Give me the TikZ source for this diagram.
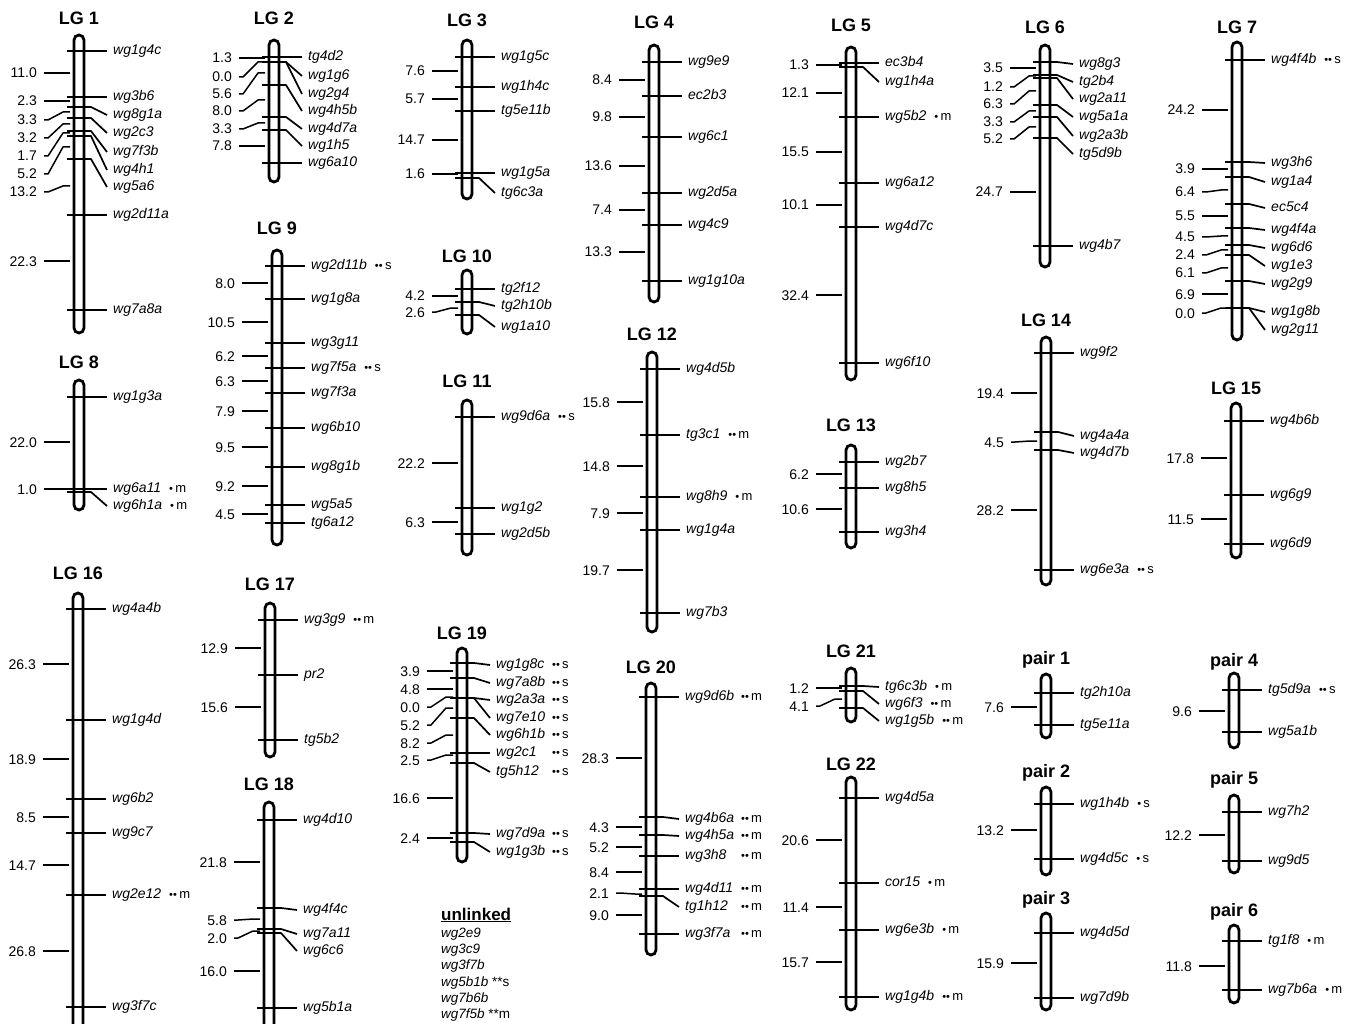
\documentclass[tikz,border=0pt]{standalone}
\usepackage{fontspec}
\setmainfont{Liberation Sans}
\usetikzlibrary{positioning}
\tikzset{
  lgbar/.style={draw=black,line width=2.8pt,fill=white,rounded corners=5pt,minimum width=10pt,inner sep=0pt},
  lgtitle/.style={font=\fontsize{18}{20}\selectfont\bfseries,anchor=base,inner sep=1pt},
  mklabel/.style={font=\fontsize{14}{16}\selectfont\itshape,anchor=west,inner sep=1pt,text height=10pt,text depth=3pt},
  cmlabel/.style={font=\fontsize{14}{16}\selectfont,anchor=east,inner sep=1pt,text height=10pt,text depth=0pt},
  mktick/.style={line width=1.7pt,line join=round},
  cmtick/.style={line width=1.5pt,line join=round},
  unhead/.style={font=\fontsize{17}{19}\selectfont\bfseries,anchor=base west,inner sep=0pt},
  unitem/.style={font=\fontsize{13.5}{15}\selectfont\itshape,anchor=base west,inner sep=0pt}
}
% significance note after a marker
\newcommand{\sigdots}[2]{{\upshape\fontsize{11}{12}\selectfont #1}\,{\upshape\fontsize{13}{14}\selectfont #2}}
\newcommand{\sig}[2]{\hspace{8pt}\sigdots{#1}{#2}}
% same, with the notes in one column
\newcommand{\sigcol}[3]{\makebox[56pt][l]{#1}\sigdots{#2}{#3}}
% bar + title: name, title, x, top, bottom, title y
\newcommand{\linkgroup}[6]{%
  \pgfmathsetmacro{\barh}{#5-#4}%
  \pgfmathsetmacro{\barc}{(#4+#5)/2}%
  \node[lgbar,minimum height=\barh pt] (#1) at (#3,\barc) {};
  \node[lgtitle] (#1-name) at (#3,#6+6.5) {#2};
}
% markers on the right: y on bar / y of label / label
\newcommand{\lgmarkers}[3]{%
  \foreach \yt/\yl/\mk [count=\i] in {#3}{
    \coordinate (#1-p\i) at (#2,\yt);
    \node[mklabel] (#1-m\i) at (#2+33,\yl) {\mk};
    \draw[mktick] ([xshift=-12pt]#1-p\i) -- ([xshift=12pt]#1-p\i) -- ([xshift=-5pt]#1-m\i.west);
  }
}
% distances on the left: y of number / y at bar / value
\newcommand{\lgdists}[3]{%
  \foreach \yl/\ym/\dd [count=\i] in {#3}{
    \node[cmlabel] (#1-d\i) at (#2-41,\yl) {\dd};
    \coordinate (#1-q\i) at (#2-9,\ym);
    \draw[cmtick] ([xshift=6pt]#1-d\i.east) -- ++(4pt,0) -- ([xshift=-7pt]#1-q\i) -- (#1-q\i);
  }
}

\begin{document}
\begin{tikzpicture}[x=1pt,y=-1pt]
\useasboundingbox (0,0) rectangle (1354,1024);
\clip (0,0) rectangle (1354,1024);

% ---- top row
\linkgroup{lg1}{LG 1}{79}{35}{333}{18}
\lgmarkers{lg1}{79}{51/51/wg1g4c, 97/97/wg3b6, 107/115/wg8g1a, 118/133/wg2c3, 131/152/wg7f3b, 136/170/wg4h1, 159/187/wg5a6, 215/215/wg2d11a, 310/310/wg7a8a}
\lgdists{lg1}{79}{73/73/11.0, 101/101/2.3, 120/112/3.3, 138/124/3.2, 156/133/1.7, 174/147/5.2, 192/186/13.2, 261/261/22.3}

\linkgroup{lg2}{LG 2}{274}{40}{182}{18}
\lgmarkers{lg2}{274}{57/57/tg4d2, 62/76/wg1g6, 62/94/wg2g4, 85/111/wg4h5b, 117/129/wg4d7a, 130/146/wg1h5, 163/163/wg6a10}
\lgdists{lg2}{274}{58/58/1.3, 77/62/0.0, 94/73/5.6, 111/100/8.0, 129/123/3.3, 146/146/7.8}

\linkgroup{lg3}{LG 3}{467}{40}{199}{20}
\lgmarkers{lg3}{467}{57/57/wg1g5c, 87/87/wg1h4c, 111/111/tg5e11b, 173/173/wg1g5a, 178/193/tg6c3a}
\lgdists{lg3}{467}{71/71/7.6, 99/99/5.7, 140/140/14.7, 174/174/1.6}

\linkgroup{lg4}{LG 4}{654}{45}{302}{22}
\lgmarkers{lg4}{654}{62/62/wg9e9, 96/96/ec2b3, 137/137/wg6c1, 193/193/wg2d5a, 225/225/wg4c9, 281/281/wg1g10a}
\lgdists{lg4}{654}{80/80/8.4, 117/117/9.8, 166/166/13.6, 210/210/7.4, 252/252/13.3}

\linkgroup{lg5}{LG 5}{851}{47}{380}{25}
\lgmarkers{lg5}{851}{63/63/ec3b4, 67/82/wg1h4a, 117/117/wg5b2\sig{•}{m}, 183/183/wg6a12, 227/227/wg4d7c, 363/363/wg6f10}
\lgdists{lg5}{851}{65/65/1.3, 93/93/12.1, 152/152/15.5, 205/205/10.1, 295/295/32.4}

\linkgroup{lg6}{LG 6}{1045}{45}{267}{27}
\lgmarkers{lg6}{1045}{62/64/wg8g3, 75/82/tg2b4, 78/99/wg2a11, 105/117/wg5a1a, 117/136/wg2a3b, 138/154/tg5d9b, 246/246/wg4b7}
\lgdists{lg6}{1045}{68/68/3.5, 87/76/1.2, 104/91/6.3, 122/111/3.3, 139/127/5.2, 192/192/24.7}

\linkgroup{lg7}{LG 7}{1237}{42}{340}{27}
\lgmarkers{lg7}{1237}{60/60/wg4f4b\sig{••}{s}, 162/163/wg3h6, 177/182/wg1a4, 204/208/ec5c4, 228/230/wg4f4a, 245/248/wg6d6, 255/266/wg1e3, 281/284/wg2g9, 308/312/wg1g8b, 308/330/wg2g11}
\lgdists{lg7}{1237}{110/110/24.2, 169/169/3.9, 192/190/6.4, 216/216/5.5, 237/236/4.5, 255/250/2.4, 273/268/6.1, 294/294/6.9, 313/308/0.0}

% ---- middle row
\linkgroup{lg8}{LG 8}{79}{380}{510}{362}
\lgmarkers{lg8}{79}{397/397/wg1g3a, 489/489/wg6a11\sig{•}{m}, 492/506/wg6h1a\sig{•}{m}}
\lgdists{lg8}{79}{442/442/22.0, 489/489/1.0}

\linkgroup{lg9}{LG 9}{277}{250}{545}{228}
\lgmarkers{lg9}{277}{266/266/wg2d11b\sig{••}{s}, 299/299/wg1g8a, 343/343/wg3g11, 368/368/wg7f5a\sig{••}{s}, 393/393/wg7f3a, 428/428/wg6b10, 467/467/wg8g1b, 505/505/wg5a5, 523/523/tg6a12}
\lgdists{lg9}{277}{283/283/8.0, 322/322/10.5, 356/356/6.2, 381/381/6.3, 411/411/7.9, 447/447/9.5, 486/486/9.2, 514/514/4.5}

\linkgroup{lg10}{LG 10}{467}{270}{334}{256}
\lgmarkers{lg10}{467}{289/289/tg2f12, 302/306/tg2h10b, 315/327/wg1a10}
\lgdists{lg10}{467}{296/296/4.2, 312/308/2.6}

\linkgroup{lg11}{LG 11}{467}{400}{555}{381}
\lgmarkers{lg11}{467}{417/417/wg9d6a\sig{••}{s}, 508/508/wg1g2, 534/534/wg2d5b}
\lgdists{lg11}{467}{463/463/22.2, 522/522/6.3}

\linkgroup{lg12}{LG 12}{652}{352}{632}{334}
\lgmarkers{lg12}{652}{369/369/wg4d5b, 435/435/tg3c1\sig{••}{m}, 497/497/wg8h9\sig{•}{m}, 530/530/wg1g4a, 613/613/wg7b3}
\lgdists{lg12}{652}{402/402/15.8, 466/466/14.8, 513/513/7.9, 570/570/19.7}

\linkgroup{lg13}{LG 13}{851}{445}{548}{425}
\lgmarkers{lg13}{851}{462/462/wg2b7, 488/488/wg8h5, 532/532/wg3h4}
\lgdists{lg13}{851}{474/474/6.2, 509/509/10.6}

\linkgroup{lg14}{LG 14}{1046}{337}{585}{320}
\lgmarkers{lg14}{1046}{353/353/wg9f2, 432/436/wg4a4a, 450/453/wg4d7b, 570/570/wg6e3a\sig{••}{s}}
\lgdists{lg14}{1046}{393/393/19.4, 442/441/4.5, 510/510/28.2}

\linkgroup{lg15}{LG 15}{1236}{403}{558}{388}
\lgmarkers{lg15}{1236}{421/421/wg4b6b, 495/495/wg6g9, 544/544/wg6d9}
\lgdists{lg15}{1236}{458/458/17.8, 519/519/11.5}

% ---- bottom row
\linkgroup{lg16}{LG 16}{78}{593}{1040}{573}
\lgmarkers{lg16}{78}{609/609/wg4a4b, 720/720/wg1g4d, 799/799/wg6b2, 833/833/wg9c7, 895/895/wg2e12\sig{••}{m}, 1007/1007/wg3f7c}
\lgdists{lg16}{78}{664/664/26.3, 759/759/18.9, 817/817/8.5, 865/865/14.7, 951/951/26.8}

\linkgroup{lg17}{LG 17}{270}{603}{757}{584}
\lgmarkers{lg17}{270}{620/620/wg3g9\sig{••}{m}, 675/675/pr2, 740/740/tg5b2}
\lgdists{lg17}{270}{648/648/12.9, 707/707/15.6}

\linkgroup{lg18}{LG 18}{269}{802}{1040}{784}
\lgmarkers{lg18}{269}{820/820/wg4d10, 908/910/wg4f4c, 929/934/wg7a11, 933/951/wg6c6, 1008/1008/wg5b1a}
\lgdists{lg18}{269}{862/862/21.8, 920/919/5.8, 938/931/2.0, 971/971/16.0}

\linkgroup{lg19}{LG 19}{462}{648}{862}{633}
\lgmarkers{lg19}{462}{663/665/\sigcol{wg1g8c}{••}{s}, 678/683/\sigcol{wg7a8b}{••}{s}, 698/700/\sigcol{wg2a3a}{••}{s}, 698/718/\sigcol{wg7e10}{••}{s}, 718/735/\sigcol{wg6h1b}{••}{s}, 753/753/\sigcol{wg2c1}{••}{s}, 763/772/\sigcol{tg5h12}{••}{s}, 833/834/\sigcol{wg7d9a}{••}{s}, 842/852/\sigcol{wg1g3b}{••}{s}}
\lgdists{lg19}{462}{671/671/3.9, 689/689/4.8, 707/697/0.0, 725/708/5.2, 743/735/8.2, 760/755/2.5, 798/798/16.6, 838/838/2.4}

\linkgroup{lg20}{LG 20}{651}{683}{955}{667}
\lgmarkers{lg20}{651}{697/697/\sigcol{wg9d6b}{••}{m}, 817/819/\sigcol{wg4b6a}{••}{m}, 835/836/\sigcol{wg4h5a}{••}{m}, 856/856/\sigcol{wg3h8}{••}{m}, 889/889/\sigcol{wg4d11}{••}{m}, 896/907/\sigcol{tg1h12}{••}{m}, 934/934/\sigcol{wg3f7a}{••}{m}}
\lgdists{lg20}{651}{758/758/28.3, 827/827/4.3, 847/847/5.2, 872/872/8.4, 893/894/2.1, 915/915/9.0}

\linkgroup{lg21}{LG 21}{851}{668}{722}{651}
\lgmarkers{lg21}{851}{686/687/tg6c3b\sig{•}{m}, 691/704/wg6f3\sig{••}{m}, 708/721/wg1g5b\sig{••}{m}}
\lgdists{lg21}{851}{688/688/1.2, 706/699/4.1}

\linkgroup{lg22}{LG 22}{851}{777}{1010}{764}
\lgmarkers{lg22}{851}{798/798/wg4d5a, 883/883/cor15\sig{•}{m}, 930/930/wg6e3b\sig{•}{m}, 997/997/wg1g4b\sig{••}{m}}
\lgdists{lg22}{851}{840/840/20.6, 907/907/11.4, 962/962/15.7}

% ---- pairs
\linkgroup{pr1}{pair 1}{1046}{674}{738}{658}
\lgmarkers{pr1}{1046}{693/693/tg2h10a, 725/725/tg5e11a}
\lgdists{pr1}{1046}{707/707/7.6}

\linkgroup{pr2}{pair 2}{1046}{787}{875}{771}
\lgmarkers{pr2}{1046}{804/804/wg1h4b\sig{•}{s}, 859/859/wg4d5c\sig{•}{s}}
\lgdists{pr2}{1046}{830/830/13.2}

\linkgroup{pr3}{pair 3}{1046}{913}{1010}{898}
\lgmarkers{pr3}{1046}{933/933/wg4d5d, 998/998/wg7d9b}
\lgdists{pr3}{1046}{963/963/15.9}

\linkgroup{pr4}{pair 4}{1234}{673}{748}{660}
\lgmarkers{pr4}{1234}{690/690/tg5d9a\sig{••}{s}, 732/732/wg5a1b}
\lgdists{pr4}{1234}{711/711/9.6}

\linkgroup{pr5}{pair 5}{1234}{795}{873}{778}
\lgmarkers{pr5}{1234}{812/812/wg7h2, 861/861/wg9d5}
\lgdists{pr5}{1234}{835/835/12.2}

\linkgroup{pr6}{pair 6}{1234}{925}{1003}{910}
\lgmarkers{pr6}{1234}{941/941/tg1f8\sig{•}{m}, 990/990/wg7b6a\sig{•}{m}}
\lgdists{pr6}{1234}{966/966/11.8}

% ---- unlinked markers
\node[unhead] (unl) at (441,920) {\underline{unlinked}};
\foreach \mk [count=\i] in {wg2e9, wg3c9, wg3f7b, wg5b1b\ {\upshape**s}, wg7b6b, wg7f5b\ {\upshape**m}}
  \node[unitem] (un\i) at (441,{921+16.3*\i}) {\mk};
\end{tikzpicture}
\end{document}
